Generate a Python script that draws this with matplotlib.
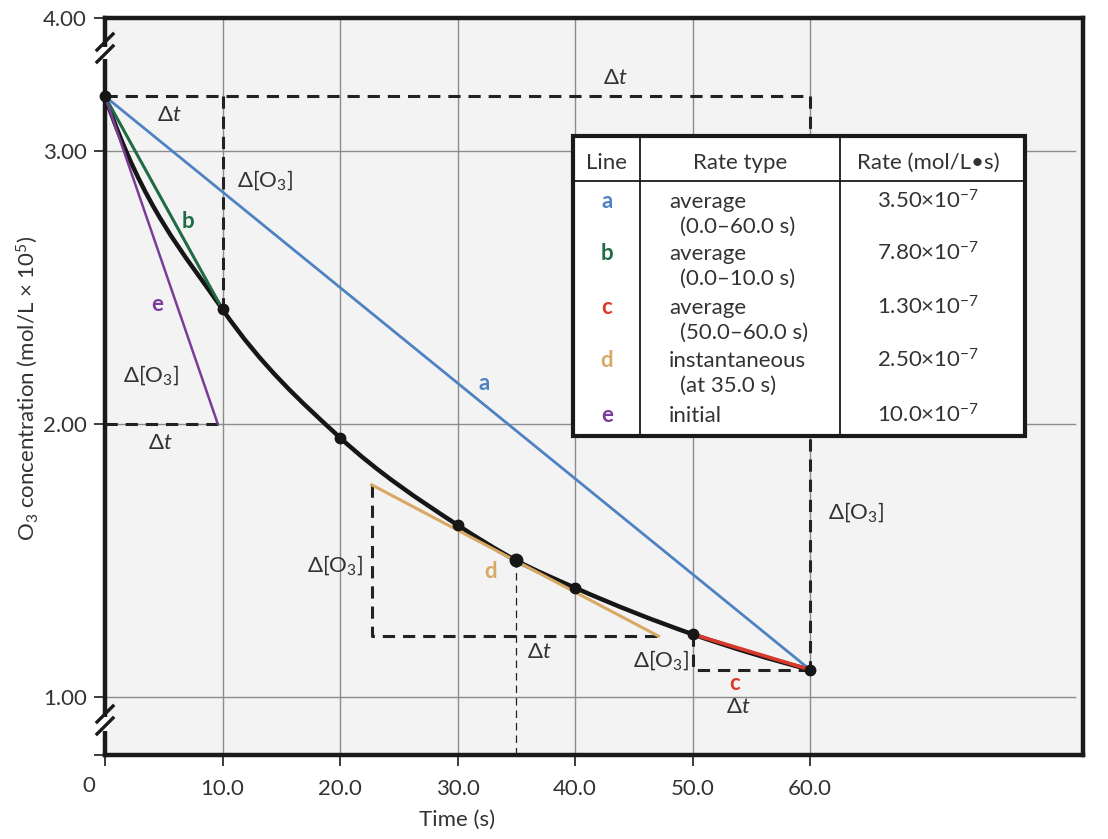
import numpy as np
import matplotlib.pyplot as plt
from matplotlib.path import Path
from matplotlib.patches import PathPatch, Rectangle

plt.rcParams['font.family'] = ['Lato', 'DejaVu Sans']
plt.rcParams['mathtext.fontset'] = 'custom'
plt.rcParams['mathtext.rm'] = 'Lato'
plt.rcParams['mathtext.it'] = 'Lato:italic'

# Measured O3 concentrations (mol/L x 10^5)
time_s = [0, 10, 20, 30, 35, 40, 50, 60]
o3_conc = [3.20, 2.42, 1.95, 1.63, 1.50, 1.40, 1.23, 1.10]

# Rate lines (endpoints in time / concentration)
a_t, a_c = [0, 60], [3.20, 1.10]
b_t, b_c = [0, 10], [3.20, 2.42]
c_t, c_c = [50, 60], [1.23, 1.10]
d_t, d_c = [22.7, 47.1], [1.777, 1.223]
e_t, e_c = [0, 9.6], [3.20, 2.00]

# Table contents
line_ids = ['a', 'b', 'c', 'd', 'e']
rate_types = [('average', '(0.0\u201360.0 s)'), ('average', '(0.0\u201310.0 s)'),
              ('average', '(50.0\u201360.0 s)'), ('instantaneous', '(at 35.0 s)'),
              ('initial', '')]
rates = ['3.50', '7.80', '1.30', '2.50', '10.0']

colors = {'a': '#4f82c3', 'b': '#1f6b43', 'c': '#d8392d', 'd': '#d8a964', 'e': '#7b3c98'}
txt = '#333333'
W, H = 1108, 839

fig = plt.figure(figsize=(W / 100, H / 100), dpi=100)
ax = fig.add_axes([105 / W, 1 - 755 / H, 978 / W, 737 / H])
ax.set_facecolor('#f4f3f4')
ax.set_xlim(0, 83.23)
ax.set_ylim(0.7875, 3.487)

# grid
for x in [10, 20, 30, 40, 50, 60]:
    ax.axvline(x, color='#8c8c8c', lw=1, zorder=1)
for y in [1, 2, 3]:
    ax.axhline(y, xmax=0.992, color='#8c8c8c', lw=1, zorder=1)

# smooth curve through the measured points (cubic Bezier segments);
# the initial slope is taken from the initial-rate tangent e
t = np.array(time_s, float)
c = np.array(o3_conc, float)
sec = np.diff(c) / np.diff(t)
m = np.zeros_like(c)
for i in range(1, len(t) - 1):
    h0, h1 = t[i] - t[i - 1], t[i + 1] - t[i]
    m[i] = (sec[i - 1] * h1 + sec[i] * h0) / (h0 + h1)
m[0] = (e_c[1] - e_c[0]) / (e_t[1] - e_t[0])
m[-1] = 2 * sec[-1] - m[-2]
verts, codes = [(t[0], c[0])], [Path.MOVETO]
for i in range(len(t) - 1):
    h = t[i + 1] - t[i]
    verts += [(t[i] + h / 3, c[i] + m[i] * h / 3),
              (t[i + 1] - h / 3, c[i + 1] - m[i + 1] * h / 3),
              (t[i + 1], c[i + 1])]
    codes += [Path.CURVE4] * 3
ax.add_patch(PathPatch(Path(verts, codes), fill=False, color='#161616', lw=3.2,
                       capstyle='round', zorder=4, clip_on=False))

# dashed construction lines
dash = dict(color='#222222', lw=2.2, ls=(0, (4, 2.6)), zorder=3, clip_on=False)
ax.plot([a_t[0], a_t[1]], [a_c[0], a_c[0]], **dash)
ax.plot([a_t[1], a_t[1]], [a_c[0], a_c[1]], **dash)
ax.plot([b_t[1], b_t[1]], [b_c[0], b_c[1]], **dash)
ax.plot([0, e_t[1]], [e_c[1], e_c[1]], **dash)
ax.plot([d_t[0], d_t[0], d_t[1]], [d_c[0], d_c[1], d_c[1]], **dash)
ax.plot([c_t[0], c_t[0], c_t[1]], [c_c[0], c_c[1], c_c[1]], **dash)
ax.plot([35, 35], [0.7875, 1.50], color='#222222', lw=0.9, ls=(0, (6, 4)), zorder=3)

# rate lines
ax.plot(a_t, a_c, color=colors['a'], lw=2.0, zorder=5)
ax.plot(b_t, b_c, color=colors['b'], lw=2.2, zorder=5)
ax.plot(c_t, c_c, color=colors['c'], lw=2.6, zorder=5)
ax.plot(d_t, d_c, color=colors['d'], lw=2.2, zorder=5)
ax.plot(e_t, e_c, color=colors['e'], lw=1.8, zorder=5)

# data points
pts_t = [tt for tt in time_s if tt != 35]
pts_c = [cc for tt, cc in zip(time_s, o3_conc) if tt != 35]
ax.plot(pts_t, pts_c, 'o', color='#161616', ms=7.5, zorder=6, clip_on=False)
ax.plot([35], [o3_conc[time_s.index(35)]], 'o', color='#161616', ms=9, zorder=6)

# annotations
fs = 16
dt = '\u0394$t$'
do3 = '\u0394[O$_3$]'
ann = [
    (5.5, 3.13, dt, 'center'), (11.2, 2.894, do3, 'left'),
    (3.9, 2.18, do3, 'center'), (4.7, 1.93, dt, 'center'),
    (43.4, 3.267, dt, 'center'), (61.5, 1.678, do3, 'left'),
    (19.6, 1.484, do3, 'center'), (37.0, 1.165, dt, 'center'),
    (47.3, 1.136, do3, 'center'), (53.9, 0.963, dt, 'center'),
]
for x, y, s, ha in ann:
    ax.text(x, y, s, ha=ha, va='center', fontsize=fs, color=txt, zorder=7)
letters = [(32.3, 2.147, 'a'), (7.06, 2.74, 'b'), (53.6, 1.051, 'c'),
           (32.85, 1.458, 'd'), (4.43, 2.436, 'e')]
for x, y, s in letters:
    ax.text(x, y, s, ha='center', va='center', fontsize=fs, color=colors[s],
            fontweight='bold', zorder=7)

# axes styling
for sp in ax.spines.values():
    sp.set_linewidth(3.2)
    sp.set_color('#1a1a1a')
ax.set_yticks([0.7875, 1, 2, 3, 3.487])
ax.set_yticklabels(['', '1.00', '2.00', '3.00', '4.00'])
ax.set_xticks([0, 10, 20, 30, 40, 50, 60])
ax.set_xticklabels(['', '10.0', '20.0', '30.0', '40.0', '50.0', '60.0'])
ax.tick_params(axis='both', direction='out', length=8, width=1.2, colors='#1a1a1a',
               labelcolor=txt, labelsize=fs, pad=5)
ax.tick_params(axis='x', pad=9)
ax.text(-1.4, -0.028, '0', transform=ax.get_xaxis_transform(), ha='center', va='top',
        fontsize=fs, color=txt)
ax.set_xlabel('Time (s)', fontsize=fs, color=txt)
ax.xaxis.set_label_coords(0.36, -0.074)
ax.set_ylabel('O$_3$ concentration (mol/L \u00d7 10$^5$)', fontsize=fs, color=txt)
ax.yaxis.set_label_coords(-0.066, 0.498)


# axis break marks on the left spine
def px(x, y):
    return (x - 105) / 978, (755 - y) / 737


for ya, yb in [(44, 62), (714, 734)]:
    ax.plot(*zip(px(105, ya + 3), px(105, yb - 3)), color='white', lw=6,
            transform=ax.transAxes, clip_on=False, zorder=8, solid_capstyle='butt')
    for off in (0, 12):
        p0 = px(97, yb - 12 + off)
        p1 = px(113, yb - 12 + off - 16)
        ax.plot([p0[0], p1[0]], [p0[1], p1[1]], color='#1a1a1a', lw=2.4,
                transform=ax.transAxes, clip_on=False, zorder=9)

# rate table
tab = fig.add_axes([573 / W, 1 - 436 / H, 452 / W, 300 / H])
tab.set_xlim(0, 452)
tab.set_ylim(300, 0)
tab.axis('off')
tab.add_patch(Rectangle((0, 0), 452, 300, fc='white', ec='#1a1a1a', lw=3, clip_on=False))
tab.plot([67, 67], [0, 300], color='#1a1a1a', lw=1.3)
tab.plot([267, 267], [0, 300], color='#1a1a1a', lw=1.3)
tab.plot([0, 452], [45, 45], color='#1a1a1a', lw=1.3)
tfs = 16
tab.text(34, 27, 'Line', ha='center', va='center', fontsize=tfs, color=txt)
tab.text(167, 27, 'Rate type', ha='center', va='center', fontsize=tfs, color=txt)
tab.text(355, 27, 'Rate (mol/L\u2022s)', ha='center', va='center', fontsize=tfs, color=txt)
base = [72, 124, 178, 231, 286]
for yb, lid, (r1, r2), rv in zip(base, line_ids, rate_types, rates):
    tab.text(34, yb, lid, ha='center', va='baseline', fontsize=tfs,
             color=colors[lid], fontweight='bold')
    tab.text(96, yb, r1, ha='left', va='baseline', fontsize=tfs, color=txt)
    if r2:
        tab.text(107, yb + 25, r2, ha='left', va='baseline', fontsize=tfs, color=txt)
    tab.text(355, yb, rv + '\u00d710$^{\u22127}$', ha='center', va='baseline',
             fontsize=tfs, color=txt)

fig.savefig('out.png', dpi=100, facecolor='white')
